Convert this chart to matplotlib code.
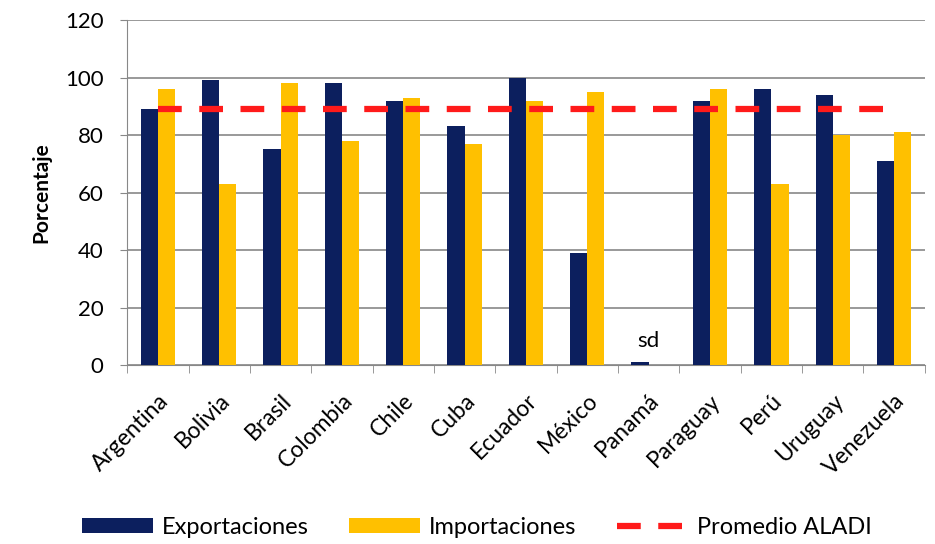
import matplotlib
matplotlib.use("Agg")
import matplotlib.pyplot as plt
import numpy as np

plt.rcParams["font.family"] = ["Lato", "DejaVu Sans"]

countries = ["Argentina", "Bolivia", "Brasil", "Colombia", "Chile", "Cuba", "Ecuador",
             "México", "Panamá", "Paraguay", "Perú", "Uruguay", "Venezuela"]
exportaciones = [89, 99, 75, 98, 92, 83, 100, 39, 1, 92, 96, 94, 71]
importaciones = [96, 63, 98, 78, 93, 77, 92, 95, 0, 96, 63, 80, 81]
promedio_aladi = 89
yticks = [0, 20, 40, 60, 80, 100, 120]

navy = "#0c1f5e"
gold = "#ffc000"
red = "#ff1a1a"
grey = "#888888"

fig = plt.figure(figsize=(9.35, 5.44), dpi=100)
ax = fig.add_axes([0.136, 0.329, 0.853, 0.634])

x = np.arange(len(countries))
w = 0.28
b1 = ax.bar(x - w / 2, exportaciones, w, color=navy, label="Exportaciones", zorder=3)
b2 = ax.bar(x + w / 2, importaciones, w, color=gold, label="Importaciones", zorder=3)
ln, = ax.plot([x[0], x[-1]], [promedio_aladi, promedio_aladi], color=red, lw=4.5,
              dashes=(3.8, 2.8), label="Promedio ALADI", zorder=4)

ax.text(x[countries.index("Panamá")], 5, "sd", ha="center", va="bottom", fontsize=16)

ax.set_xlim(-0.5, len(countries) - 0.5)
ax.set_ylim(0, 120)
ax.set_yticks(yticks)
ax.tick_params(axis="y", labelsize=16, length=5, pad=12, direction="out", color=grey)
ax.set_ylabel("Porcentaje", fontsize=15, fontweight="bold", labelpad=10)

ax.set_xticks(x)
ax.set_xticklabels(countries, rotation=45, ha="right", rotation_mode="anchor", fontsize=16.5)
ax.tick_params(axis="x", which="major", length=0, pad=18)
ax.set_xticks(np.arange(-0.5, len(countries)), minor=True)
ax.tick_params(axis="x", which="minor", length=6, color=grey)

ax.grid(axis="y", color=grey, lw=1.2, zorder=0)
for s in ["top", "right"]:
    ax.spines[s].set_visible(False)
ax.spines["left"].set_color(grey)
ax.spines["bottom"].set_color(grey)

fig.legend(handles=[b1, b2, ln], loc="center", bbox_to_anchor=(0.51, 0.03), ncol=3,
           frameon=False, fontsize=17, handlelength=3.0, handleheight=0.6,
           columnspacing=1.7, handletextpad=0.4)

fig.savefig("out.png", dpi=100, facecolor="white")
